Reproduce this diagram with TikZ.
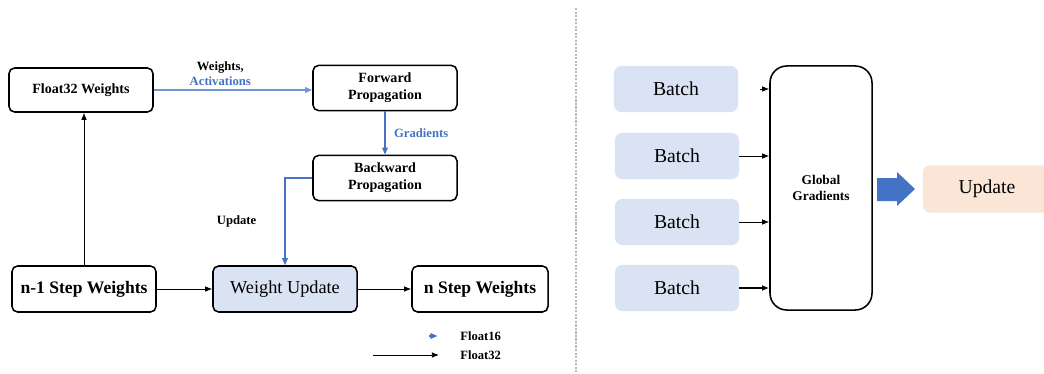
\documentclass[tikz,border=0pt]{standalone}
\usepackage{fontspec}
\setmainfont{Liberation Serif}
\usetikzlibrary{positioning, arrows.meta}

\definecolor{fpblue}{HTML}{4472C4}
\definecolor{batchblue}{HTML}{DAE3F3}
\definecolor{peach}{HTML}{FBE5D6}

\tikzset{
  wbox/.style={draw, line width=1.1pt, rounded corners=4pt, align=center, inner sep=0pt, font=\bfseries},
  batchbox/.style={fill=batchblue, rounded corners=5pt, minimum width=3.1cm, minimum height=1.15cm, inner sep=0pt, font=\fontsize{14}{16}\selectfont},
  f16/.style={fpblue, line width=0.9pt, -{Triangle[length=5pt,width=4pt]}},
  f32/.style={black, line width=0.6pt, -{Latex[length=5pt,width=4pt]}},
  lbl/.style={font=\fontsize{9}{10}\selectfont\bfseries, inner sep=0pt, text=black}
}

\begin{document}
\begin{tikzpicture}[x=0.025cm, y=-0.025cm]
  \useasboundingbox (0,0) rectangle (1044,374);

  % left: mixed precision loop
  \node[wbox, minimum width=3.6cm, minimum height=1.1cm, font=\fontsize{10}{12}\selectfont\bfseries] (fw) at (81,90) {Float32 Weights};
  \node[wbox, minimum width=3.6cm, minimum height=1.13cm, font=\fontsize{10}{12}\selectfont\bfseries] (fp) at (385,88) {Forward\\Propagation};
  \node[wbox, minimum width=3.6cm, minimum height=1.13cm, font=\fontsize{10}{12}\selectfont\bfseries] (bp) at (385,178) {Backward\\Propagation};
  \node[wbox, minimum width=3.6cm, minimum height=1.15cm, font=\fontsize{12.5}{14}\selectfont\bfseries] (nm1) at (84,289) {n-1 Step Weights};
  \node[wbox, fill=batchblue, minimum width=3.6cm, minimum height=1.15cm, font=\fontsize{13}{15}\selectfont] (wu) at (285,289) {Weight Update};
  \node[wbox, minimum width=3.4cm, minimum height=1.15cm, font=\fontsize{12.5}{14}\selectfont\bfseries] (ns) at (480,289) {n Step Weights};

  \draw[f16, fpblue!75] (fw) -- (fp.west |- fw) node[lbl, pos=0.42, above=3pt, align=center] {Weights,\\\textcolor{fpblue}{Activations}};
  \draw[f16] (fp) -- (bp) node[lbl, midway, right=6pt, text=fpblue] {Gradients};
  \draw[f16] (bp.west) -| (wu.north) node[lbl, pos=0.75, left=20pt] {Update};
  \draw[f32] (nm1.north) -- (nm1.north |- fw.south);
  \draw[f32] (nm1) -- (wu);
  \draw[f32] (wu) -- (ns);

  % legend
  \node[lbl, anchor=west] (lg16) at (460,336) {Float16};
  \node[lbl, anchor=west] (lg32) at (460,355) {Float32};
  \draw[f16] ([xshift=-22pt]lg16.west) -- ([xshift=-16pt]lg16.west);
  \draw[f32] ([xshift=-62pt]lg32.west) -- ([xshift=-15pt]lg32.west);

  % separator
  \draw[gray!55, line width=1.6pt, dash pattern=on 1.5pt off 1pt] (576,8) -- (576,372);

  % right: gradient accumulation
  \node[batchbox] (b1) at (676,89) {Batch};
  \node[batchbox] (b2) at (677,156) {Batch};
  \node[batchbox] (b3) at (677,222) {Batch};
  \node[batchbox] (b4) at (677,288) {Batch};
  \node[draw, line width=1.1pt, rounded corners=12pt, minimum width=2.55cm, minimum height=6.1cm, align=center, font=\fontsize{9.5}{11}\selectfont\bfseries] (gg) at (821,188) {Global\\Gradients};
  \node[fill=peach, rounded corners=5pt, minimum width=3.2cm, minimum height=1.18cm, font=\fontsize{14}{16}\selectfont] (up) at (987,189) {Update};

  \coordinate (b1in) at (760,89);
  \draw[f32] (b1in) -- (b1in -| gg.west);
  \draw[f32] (b2) -- (b2 -| gg.west);
  \draw[f32] (b3) -- (b3 -| gg.west);
  \draw[f32, line width=1pt] (b4) -- (b4 -| gg.west);

  \fill[fpblue] (877,178) -- (897,178) -- (897,172) -- (915,189) -- (897,206) -- (897,201) -- (877,201) -- cycle;
\end{tikzpicture}
\end{document}
